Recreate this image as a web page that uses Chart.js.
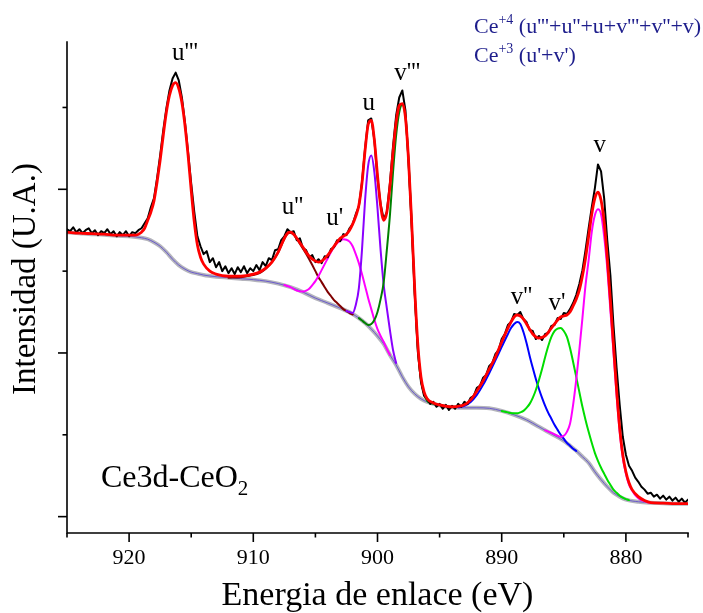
<!DOCTYPE html>
<html>
<head>
<meta charset="utf-8">
<script src="https://cdn.jsdelivr.net/npm/chart.js@4.4.1/dist/chart.umd.min.js"></script>
<style>
  html, body { margin: 0; padding: 0; background: #ffffff; }
  #wrap { width: 703px; height: 613px; }
</style>
</head>
<body>
<div id="wrap"><canvas id="c" width="703" height="613"></canvas></div>
<script>
// ---------------- DATA (binding energy in eV, intensity in arbitrary units) ----------------
const expEnergy = [925,924.75,924.5,924.25,924,923.75,923.5,923.25,923,922.75,922.5,922.25,922,921.75,921.5,921.25,921,920.75,920.5,920.25,920,919.75,919.5,919.25,919,918.75,918.5,918.25,918,917.75,917.5,917.25,917,916.75,916.5,916.25,916,915.75,915.5,915.25,915,914.75,914.5,914.25,914,913.75,913.5,913.25,913,912.75,912.5,912.25,912,911.75,911.5,911.25,911,910.75,910.5,910.25,910,909.75,909.5,909.25,909,908.75,908.5,908.25,908,907.75,907.5,907.25,907,906.75,906.5,906.25,906,905.75,905.5,905.25,905,904.75,904.5,904.25,904,903.75,903.5,903.25,903,902.75,902.5,902.25,902,901.75,901.5,901.25,901,900.75,900.5,900.25,900,899.75,899.5,899.25,899,898.75,898.5,898.25,898,897.75,897.5,897.25,897,896.75,896.5,896.25,896,895.75,895.5,895.25,895,894.75,894.5,894.25,894,893.75,893.5,893.25,893,892.75,892.5,892.25,892,891.75,891.5,891.25,891,890.75,890.5,890.25,890,889.75,889.5,889.25,889,888.75,888.5,888.25,888,887.75,887.5,887.25,887,886.75,886.5,886.25,886,885.75,885.5,885.25,885,884.75,884.5,884.25,884,883.75,883.5,883.25,883,882.75,882.5,882.25,882,881.75,881.5,881.25,881,880.75,880.5,880.25,880,879.75,879.5,879.25,879,878.75,878.5,878.25,878,877.75,877.5,877.25,877,876.75,876.5,876.25,876,875.75,875.5,875.25,875];
const expIntensity = [17.56,17.44,17.68,17.38,17.56,17.32,17.50,17.62,17.32,17.50,
17.20,17.44,17.32,17.56,17.26,17.44,17.13,17.38,17.20,17.44,
17.13,17.38,17.32,17.50,17.62,17.93,18.23,18.90,19.45,20.67,
22.07,23.60,24.94,26.04,26.77,27.13,26.65,25.61,24.09,22.26,
20.37,18.60,17.13,16.52,16.04,16.22,15.55,15.79,15.24,15.55,
15.00,15.30,14.88,15.18,14.82,15.24,14.94,15.30,14.88,15.18,
15.00,15.37,15.06,15.55,15.30,15.79,15.67,16.28,16.34,16.89,
17.13,17.56,17.38,17.44,16.89,17.01,16.40,16.28,15.85,15.98,
15.55,15.73,15.49,15.91,15.85,16.34,16.46,16.89,16.83,17.26,
17.20,17.62,17.87,18.48,18.96,20.43,22.50,24.21,24.33,22.99,
20.67,19.09,18.17,18.60,20.37,22.62,24.51,25.61,26.04,24.82,
21.65,17.80,13.54,10.06,8.23,7.38,7.20,6.89,7.01,6.71,
6.89,6.59,6.83,6.52,6.77,6.59,6.89,6.71,7.01,6.89,
7.26,7.38,7.87,7.99,8.48,8.66,9.21,9.39,9.94,10.18,
10.85,11.16,11.71,11.89,12.38,12.32,12.50,12.07,11.89,11.40,
11.34,10.85,11.04,10.79,11.16,11.22,11.65,11.71,12.13,12.07,
12.44,12.38,12.68,13.05,13.54,14.21,15.06,16.28,17.62,18.90,
20.06,21.52,21.10,19.45,16.89,14.76,11.71,9.09,6.83,4.88,
3.78,3.11,2.80,2.38,2.13,1.83,1.65,1.40,1.46,1.22,
1.34,1.10,1.28,1.04,1.22,0.98,1.16,0.91,1.10,0.85,
1.04];

const fitEnergy = [925,924,923,922,921,920,919.5,919.25,919,918.75,918.5,918.25,918,917.75,917.5,917.25,917,916.75,916.5,916.25,916,915.75,915.5,915.25,915,914.75,914.5,914.25,914,913.5,913,912.5,912,911,910,909.5,909,908.5,908,907.75,907.5,907.25,907,906.75,906.5,906,905.5,905,904.75,904.5,904,903.5,903,902.75,902.5,902.25,902,901.75,901.5,901.25,901,900.75,900.5,900.25,900,899.75,899.5,899.25,899,898.75,898.5,898.25,898,897.75,897.5,897.25,897,896.75,896.5,896.25,896,895.5,895,894,893,892.5,892,891.5,891,890.5,890,889.5,889.25,889,888.75,888.5,888.25,888,887.5,887,886.5,886,885.5,885.25,885,884.75,884.5,884.25,884,883.75,883.5,883.25,883,882.75,882.5,882.25,882,881.75,881.5,881.25,881,880.75,880.5,880.25,880,879.75,879.5,879,878.5,878,877,876,875];
const fitIntensity = [17.38,17.32,17.29,17.26,17.20,17.20,17.20,17.26,17.38,17.62,18.11,18.60,19.27,20.43,21.77,23.29,24.70,25.73,26.34,26.52,26.16,25.30,23.90,22.07,19.94,17.99,16.59,15.85,15.43,15.00,14.82,14.73,14.70,14.70,14.82,14.94,15.18,15.55,16.16,16.59,17.01,17.32,17.38,17.26,17.01,16.46,15.91,15.61,15.55,15.61,15.98,16.52,17.01,17.13,17.26,17.50,17.87,18.35,19.02,20.37,22.38,23.96,24.21,22.99,20.85,19.02,18.11,18.60,20.18,22.26,24.09,25.12,25.24,24.39,21.77,17.99,13.84,10.49,8.54,7.62,7.20,6.95,6.83,6.71,6.83,7.13,7.68,8.29,9.02,9.76,10.67,11.52,11.89,12.20,12.32,12.26,12.07,11.77,11.16,10.91,11.04,11.52,12.01,12.20,12.26,12.32,12.50,12.87,13.29,13.84,14.70,15.79,17.13,18.48,19.45,19.82,19.33,17.99,15.79,13.23,10.49,7.74,5.43,3.78,2.74,2.07,1.65,1.22,0.98,0.85,0.82,0.79,0.79];

const bgEnergy = [925,924,923,922,921,920,919,918.5,918,917.5,917,916.5,916,915.5,915,914.5,914,913,912,911,910,909,908,907,906,905,904,903,902,901.5,901,900.5,900,899.5,899,898.5,898,897.5,897,896.5,896,895,894,893,892,891,890,889,888,887,886,885,884.5,884,883.5,883,882.5,882,881.5,881,880.5,880,879,878,877,876,875];
const bgIntensity = [17.38,17.32,17.26,17.23,17.16,17.13,17.04,16.95,16.77,16.52,16.16,15.73,15.37,15.12,14.94,14.85,14.76,14.66,14.60,14.54,14.48,14.39,14.24,14.02,13.72,13.35,13.05,12.74,12.38,12.13,11.83,11.46,11.04,10.55,9.88,9.27,8.54,7.93,7.50,7.20,7.01,6.80,6.68,6.65,6.65,6.62,6.46,6.22,5.91,5.49,5.06,4.63,4.33,4.02,3.66,3.29,2.74,2.26,1.83,1.46,1.22,1.04,0.91,0.85,0.82,0.79,0.79];

// fitted components
const u2Energy = [912,911,910.5,910,909.5,909.25,909,908.75,908.5,908.25,908,907.75,907.5,907.25,907,906.75,906.5,906.25,906,905.75,905.5,905.25,905,904.75,904.5,904.25,904,903.75,903.5,903.25,903,902.75,902.5,902.25,902];
const u2Intensity = [14.60,14.63,14.70,14.76,14.88,15.00,15.15,15.34,15.55,15.82,16.13,16.55,16.98,17.29,17.35,17.23,16.98,16.68,16.37,16.07,15.73,15.37,15.00,14.63,14.33,14.02,13.72,13.48,13.23,13.05,12.87,12.68,12.56,12.44,12.35];

const u1Energy = [907.5,907,906.5,906,905.75,905.5,905.25,905,904.75,904.5,904.25,904,903.75,903.5,903.25,903,902.75,902.5,902.25,902,901.75,901.5,901.25,901,900.75,900.5,900.25,900,899.75,899.5,899.25,899];
const u1Intensity = [14.15,14.02,13.81,13.75,13.81,13.93,14.15,14.39,14.70,15.06,15.43,15.79,16.16,16.46,16.71,16.86,16.95,16.92,16.80,16.52,16.04,15.49,14.82,14.09,13.35,12.68,12.01,11.46,11.04,10.67,10.24,9.88];

const u0Energy = [902.5,902.25,902,901.75,901.5,901.25,901,900.75,900.5,900.25,900,899.75,899.5,899.25,899,898.75,898.5];
const u0Intensity = [12.56,12.50,12.44,12.93,13.96,16.28,19.33,21.46,22.07,21.04,18.84,16.28,14.15,12.74,11.40,10.18,9.39];

const v3Energy = [901.5,901.25,901,900.75,900.5,900.25,900,899.75,899.5,899.25,899,898.75,898.5,898.25,898,897.75,897.5,897.25,897,896.75,896.5,896.25,896,895.75,895.5];
const v3Intensity = [12.13,11.98,11.83,11.71,11.77,12.01,12.50,13.29,14.33,16.28,18.41,21.04,23.29,24.70,25.18,24.39,21.77,17.99,13.72,10.30,8.35,7.50,7.07,6.95,6.89];

const v2Energy = [893.5,893,892.5,892,891.5,891,890.5,890,889.5,889.25,889,888.75,888.5,888.25,888,887.75,887.5,887.25,887,886.75,886.5,886.25,886,885.75,885.5,885.25,885,884.75,884.5,884.25,884];
const v2Intensity = [6.68,6.77,7.01,7.44,8.05,8.78,9.57,10.37,11.16,11.52,11.77,11.89,11.77,11.28,10.61,9.82,9.09,8.41,7.80,7.26,6.77,6.34,5.98,5.61,5.30,5.00,4.76,4.51,4.33,4.15,4.02];

const v1Energy = [890,889.5,889,888.75,888.5,888.25,888,887.75,887.5,887.25,887,886.75,886.5,886.25,886,885.75,885.5,885.25,885,884.75,884.5,884.25,884,883.75,883.5,883.25,883,882.75,882.5,882.25,882,881.75,881.5,881.25,881,880.75,880.5,880.25,880,879.75];
const v1Intensity = [6.46,6.37,6.31,6.31,6.37,6.46,6.65,6.89,7.26,7.74,8.35,9.02,9.76,10.43,10.98,11.34,11.49,11.52,11.34,10.98,10.30,9.45,8.54,7.62,6.71,5.91,5.18,4.51,3.90,3.41,2.99,2.62,2.26,1.95,1.65,1.46,1.28,1.16,1.07,1.01];

const v0Energy = [886.5,886,885.5,885.25,885,884.75,884.5,884.25,884,883.75,883.5,883.25,883,882.75,882.5,882.25,882,881.75,881.5,881.25,881,880.75,880.5,880.25,880,879.75,879.5,879.25,879,878.75,878.5,878.25,878];
const v0Intensity = [5.27,5.12,4.94,4.88,4.94,5.18,5.67,6.83,8.35,10.18,12.13,14.15,15.67,17.38,18.41,18.78,18.48,17.13,15.18,12.62,10.06,7.44,5.18,3.60,2.62,1.95,1.59,1.31,1.13,1.01,0.95,0.88,0.85];

// axis ticks
const xMajorTicks = [920, 910, 900, 890, 880];
const xMinorTicks = [925, 915, 905, 895, 885, 875];
const yMajorTicks = [0, 10, 20];
const yMinorTicks = [5, 15, 25];

// peak labels (anchored in data coordinates)
const peakLabels = ["u'''", "u''", "u'", "u", "v'''", "v''", "v'", "v"];
const labelEnergy = [915.5, 906.85, 903.45, 900.7, 897.6, 888.4, 885.55, 882.1];
const labelIntensity = [28.3, 18.9, 18.2, 25.24, 27.07, 13.4, 13.05, 22.7];

// ---------------- CHART ----------------
const SERIF = "'Liberation Serif', 'Times New Roman', serif";
const pts = (es, vs) => es.map((e, i) => ({ x: e, y: vs[i] }));

function ds(label, es, vs, color, width, order, extra) {
  return Object.assign({
    label, data: pts(es, vs), borderColor: color, backgroundColor: color,
    borderWidth: width, pointRadius: 0, fill: false, order,
    cubicInterpolationMode: 'monotone', borderJoinStyle: 'round', borderCapStyle: 'round'
  }, extra || {});
}

const datasets = [
  ds('Envolvente', fitEnergy, fitIntensity, '#ff0000', 2.8, 0),
  ds('Experimental', expEnergy, expIntensity, '#000000', 2.0, 1, { cubicInterpolationMode: 'default', tension: 0 }),
  ds("v", v0Energy, v0Intensity, '#ff00ff', 2.0, 2),
  ds("v'", v1Energy, v1Intensity, '#00dd00', 2.0, 3),
  ds("v''", v2Energy, v2Intensity, '#0000ff', 2.0, 4),
  ds("v'''", v3Energy, v3Intensity, '#008000', 2.0, 5),
  ds("u", u0Energy, u0Intensity, '#8a00ff', 2.0, 6),
  ds("u'", u1Energy, u1Intensity, '#ff00ff', 2.0, 7),
  ds("u''", u2Energy, u2Intensity, '#800000', 2.0, 8),
  ds('Fondo', bgEnergy, bgIntensity, '#6a5acd', 1.0, 9),
  ds('Fondo2', bgEnergy, bgIntensity, '#b4b4bc', 4.0, 10)
];

function richText(ctx, parts, x, y, color) {
  let cx = x;
  ctx.fillStyle = color;
  ctx.textAlign = 'left';
  ctx.textBaseline = 'alphabetic';
  parts.forEach(p => {
    ctx.font = p.size + 'px ' + SERIF;
    ctx.fillText(p.t, cx, y + (p.dy || 0));
    cx += ctx.measureText(p.t).width;
  });
}

const annotPlugin = {
  id: 'annot',
  afterDatasetsDraw(chart) {
    const { ctx, chartArea: a, scales: { x, y } } = chart;
    ctx.save();
    // axis lines
    ctx.strokeStyle = '#000';
    ctx.lineWidth = 1.6;
    ctx.lineCap = 'square';
    ctx.beginPath();
    ctx.moveTo(a.left, a.top);
    ctx.lineTo(a.left, a.bottom);
    ctx.lineTo(a.right, a.bottom);
    ctx.stroke();
    ctx.lineCap = 'butt';
    const tick = (x1, y1, x2, y2) => { ctx.beginPath(); ctx.moveTo(x1, y1); ctx.lineTo(x2, y2); ctx.stroke(); };
    xMajorTicks.forEach(v => { const p = x.getPixelForValue(v); tick(p, a.bottom, p, a.bottom + 9); });
    xMinorTicks.forEach(v => { const p = x.getPixelForValue(v); tick(p, a.bottom, p, a.bottom + 4.5); });
    yMajorTicks.forEach(v => { const p = y.getPixelForValue(v); tick(a.left, p, a.left - 9, p); });
    yMinorTicks.forEach(v => { const p = y.getPixelForValue(v); tick(a.left, p, a.left - 4.5, p); });

    // y-axis title
    ctx.save();
    ctx.translate(26, 279);
    ctx.rotate(-Math.PI / 2);
    ctx.fillStyle = '#000';
    ctx.font = '33px ' + SERIF;
    ctx.textAlign = 'center';
    ctx.textBaseline = 'middle';
    ctx.fillText('Intensidad (U.A.)', 0, 0);
    ctx.restore();

    // peak labels
    ctx.fillStyle = '#000';
    ctx.font = '25px ' + SERIF;
    ctx.textAlign = 'center';
    ctx.textBaseline = 'middle';
    peakLabels.forEach((t, i) => {
      ctx.fillText(t, x.getPixelForValue(labelEnergy[i]), y.getPixelForValue(labelIntensity[i]));
    });

    // oxidation-state note
    const navy = '#1e1e8c';
    richText(ctx, [{ t: 'Ce', size: 22 }, { t: '+4', size: 14, dy: -9 }, { t: " (u'''+u''+u+v'''+v''+v)", size: 22 }], 474, 33, navy);
    richText(ctx, [{ t: 'Ce', size: 22 }, { t: '+3', size: 14, dy: -9 }, { t: " (u'+v')", size: 22 }], 474, 62, navy);

    // sample label
    richText(ctx, [{ t: 'Ce3d-CeO', size: 32 }, { t: '2', size: 21, dy: 8 }], 101, 487, '#000');
    ctx.restore();
  }
};

new Chart(document.getElementById('c').getContext('2d'), {
  type: 'line',
  data: { datasets },
  options: {
    responsive: false,
    animation: false,
    events: [],
    layout: { padding: { top: 42, right: 15, left: 0, bottom: 0 } },
    plugins: { legend: { display: false }, tooltip: { enabled: false } },
    scales: {
      x: {
        type: 'linear', reverse: true, min: 875, max: 925,
        grid: { display: false, drawTicks: false },
        border: { display: false },
        afterBuildTicks: s => { s.ticks = xMajorTicks.map(v => ({ value: v })); },
        afterFit: s => { s.height = 80; },
        ticks: { color: '#000', font: { family: SERIF, size: 22 }, padding: 12, maxRotation: 0, autoSkip: false },
        title: { display: true, text: 'Energia de enlace (eV)', color: '#000',
                 font: { family: SERIF, size: 34, lineHeight: 1 }, padding: { top: 0, bottom: 0 } }
      },
      y: {
        min: -1, max: 29,
        grid: { display: false, drawTicks: false },
        border: { display: false },
        ticks: { display: false },
        afterFit: s => { s.width = 67; },
        title: { display: false }
      }
    }
  },
  plugins: [annotPlugin]
});
</script>
</body>
</html>
